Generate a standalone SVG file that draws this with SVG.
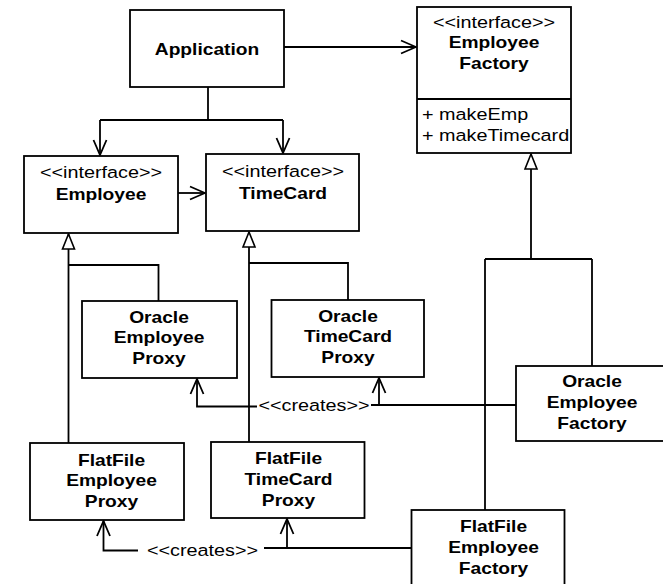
<svg xmlns="http://www.w3.org/2000/svg" width="663" height="584" viewBox="0 0 663 584">
<style>
  .box { fill: #ffffff; stroke: #000000; stroke-width: 1.8; }
  .ln { fill: none; stroke: #000000; stroke-width: 1.8; }
  .t { font-family: "Liberation Sans", Arial, Helvetica, sans-serif; font-size: 16.5px; fill: #000000; text-anchor: middle; }
  .b { font-weight: bold; font-size: 16px; }
  .l { text-anchor: start; }
</style>
<defs>
  <marker id="open" viewBox="-16 -8 18 16" markerWidth="18" markerHeight="16" refX="0" refY="0" orient="auto" markerUnits="userSpaceOnUse">
    <path d="M-15,-6.5 L0,0 L-15,6.5" fill="none" stroke="#000000" stroke-width="1.8"/>
  </marker>
  <marker id="tri" viewBox="-17 -8 19 16" markerWidth="19" markerHeight="16" refX="0" refY="0" orient="auto" markerUnits="userSpaceOnUse">
    <path d="M0,0 L-15,-6 L-15,6 Z" fill="#ffffff" stroke="#000000" stroke-width="1.6"/>
  </marker>
</defs>
<rect width="663" height="584" fill="#ffffff"/>

<g id="connectors">
  <path class="ln" d="M284,47 H416" marker-end="url(#open)"/>
  <path class="ln" d="M208,87 V120"/>
  <path class="ln" d="M100,120 H283"/>
  <path class="ln" d="M100,120 V155" marker-end="url(#open)"/>
  <path class="ln" d="M283,120 V153" marker-end="url(#open)"/>
  <path class="ln" d="M178,193 H205" marker-end="url(#open)"/>
  <path class="ln" d="M68.5,443 V234" marker-end="url(#tri)"/>
  <path class="ln" d="M68.5,265 H158.5 V301"/>
  <path class="ln" d="M249,442 V232" marker-end="url(#tri)"/>
  <path class="ln" d="M249,263 H348 V300"/>
  <path class="ln" d="M531,259 V154" marker-end="url(#tri)"/>
  <path class="ln" d="M485,259 H592"/>
  <path class="ln" d="M485,259 V510"/>
  <path class="ln" d="M592,259 V366"/>
  <path class="ln" d="M516,405 H371"/>
  <path class="ln" d="M379,405 V378" marker-end="url(#open)"/>
  <path class="ln" d="M257,406.5 H197 V379" marker-end="url(#open)"/>
  <text class="t" transform="translate(314,411) scale(1.2,1)">&lt;&lt;creates&gt;&gt;</text>
  <path class="ln" d="M411.5,548 H264"/>
  <path class="ln" d="M287,548 V519" marker-end="url(#open)"/>
  <path class="ln" d="M138,550.5 H103.5 V521" marker-end="url(#open)"/>
  <text class="t" transform="translate(202.5,556) scale(1.2,1)">&lt;&lt;creates&gt;&gt;</text>
</g>

<g id="application">
  <rect class="box" x="130" y="10" width="154" height="77"/>
  <text class="t b" transform="translate(207,55) scale(1.2,1)">Application</text>
</g>

<g id="employee-factory">
  <rect class="box" x="417" y="7" width="154" height="146"/>
  <path class="ln" d="M417,99 H571"/>
  <text class="t" transform="translate(494,28) scale(1.2,1)">&lt;&lt;interface&gt;&gt;</text>
  <text class="t b" transform="translate(494,48) scale(1.2,1)"><tspan x="0">Employee</tspan><tspan x="0" dy="21">Factory</tspan></text>
  <text class="t l" transform="translate(422,120) scale(1.2,1)"><tspan x="0">+ makeEmp</tspan><tspan x="0" dy="21">+ makeTimecard</tspan></text>
</g>

<g id="employee">
  <rect class="box" x="24" y="156" width="154" height="77"/>
  <text class="t" transform="translate(101,178) scale(1.2,1)">&lt;&lt;interface&gt;&gt;</text>
  <text class="t b" transform="translate(101,199.5) scale(1.2,1)">Employee</text>
</g>

<g id="timecard">
  <rect class="box" x="206" y="154" width="153" height="77"/>
  <text class="t" transform="translate(283,176.5) scale(1.2,1)">&lt;&lt;interface&gt;&gt;</text>
  <text class="t b" transform="translate(283,198.5) scale(1.2,1)">TimeCard</text>
</g>

<g id="oracle-employee-proxy">
  <rect class="box" x="82" y="301" width="155" height="77"/>
  <text class="t b" transform="translate(159,322.5) scale(1.2,1)"><tspan x="0">Oracle</tspan><tspan x="0" dy="21">Employee</tspan><tspan x="0" dy="21">Proxy</tspan></text>
</g>

<g id="oracle-timecard-proxy">
  <rect class="box" x="271.5" y="300" width="152.5" height="77"/>
  <text class="t b" transform="translate(348,321.5) scale(1.2,1)"><tspan x="0">Oracle</tspan><tspan x="0" dy="21">TimeCard</tspan><tspan x="0" dy="21">Proxy</tspan></text>
</g>

<g id="oracle-employee-factory">
  <rect class="box" x="516" y="366" width="200" height="75"/>
  <text class="t b" transform="translate(592,387) scale(1.2,1)"><tspan x="0">Oracle</tspan><tspan x="0" dy="21">Employee</tspan><tspan x="0" dy="21">Factory</tspan></text>
</g>

<g id="flatfile-employee-proxy">
  <rect class="box" x="30" y="443" width="154" height="77"/>
  <text class="t b" transform="translate(111.5,465.5) scale(1.2,1)"><tspan x="0">FlatFile</tspan><tspan x="0" dy="21">Employee</tspan><tspan x="0" dy="21">Proxy</tspan></text>
</g>

<g id="flatfile-timecard-proxy">
  <rect class="box" x="211" y="442" width="153.5" height="76"/>
  <text class="t b" transform="translate(288.5,464) scale(1.2,1)"><tspan x="0">FlatFile</tspan><tspan x="0" dy="21">TimeCard</tspan><tspan x="0" dy="21">Proxy</tspan></text>
</g>

<g id="flatfile-employee-factory">
  <rect class="box" x="411.5" y="510" width="153" height="100"/>
  <text class="t b" transform="translate(493.5,532) scale(1.2,1)"><tspan x="0">FlatFile</tspan><tspan x="0" dy="21">Employee</tspan><tspan x="0" dy="21">Factory</tspan></text>
</g>
</svg>
